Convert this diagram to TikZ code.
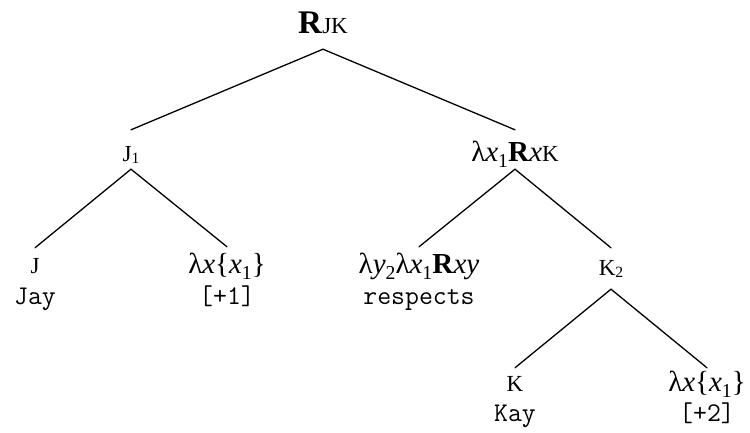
\documentclass[tikz,border=0pt]{standalone}
\usepackage{fontspec}
\usepackage{graphicx}
\setmainfont{Liberation Serif}
% helpers for the semantic labels
\newcommand\dn[1]{\raisebox{-0.22em}{\scalebox{0.68}{#1}}}
\newcommand\itv[1]{\textit{#1}}
\newcommand\smc[1]{{\fontsize{23}{23}\selectfont #1}}
\newcommand\lexp{\fontsize{29}{29}\selectfont}
\newcommand\word{\ttfamily\fontsize{27}{27}\selectfont}
\begin{document}
\begin{tikzpicture}[x=1pt,y=1pt,
  tn/.style 2 args={inner sep=0pt, anchor=base, text height=#1, text depth=#2},
  edge/.style={line width=1.3pt, line cap=round}]
\useasboundingbox (0,0) rectangle (750,432);

% root
\node[tn={22pt}{15pt}] (root) at (323,398) {{\fontsize{33}{33}\selectfont\textbf{R}}\smc{JK}};

% first level
\node[tn={31pt}{8pt}] (j1) at (131,271) {\smc{J}\dn{\smc{1}}};
\node[tn={31pt}{8pt}] (r1) at (515,271) {\lexp λ\itv{x}\dn{1}\textbf{R}\itv{x}\smc{K}};

% second level
\node[tn={25pt}{4pt}] (j) at (35,159) {\smc{J}};
\node[tn={20pt}{6pt}] (jay) at (35,128) {\word Jay};
\node[tn={26pt}{6pt}] (lx1) at (227,159) {\lexp λ\itv{x}\{\itv{x}\dn{1}\}};
\node[tn={20pt}{6pt}] (p1) at (227,128) {\word [+1]};
\node[tn={26pt}{6pt}] (lyx) at (419,159) {\lexp λ\itv{y}\dn{2}λ\itv{x}\dn{1}\textbf{R}\itv{x}\itv{y}};
\node[tn={20pt}{6pt}] (resp) at (419,128) {\word respects};
\node[tn={27pt}{14pt}] (k2) at (611,157) {\smc{K}\dn{\smc{2}}};

% third level
\node[tn={23pt}{4pt}] (k) at (515,41) {\smc{K}};
\node[tn={20pt}{6pt}] (kay) at (515,11) {\word Kay};
\node[tn={23pt}{6pt}] (lx2) at (707,41) {\lexp λ\itv{x}\{\itv{x}\dn{1}\}};
\node[tn={20pt}{6pt}] (p2) at (707,11) {\word [+2]};

% branches
\draw[edge] (root.south) -- (j1.north);
\draw[edge] (root.south) -- (r1.north);
\draw[edge] (j1.south) -- (j.north);
\draw[edge] (j1.south) -- (lx1.north);
\draw[edge] (r1.south) -- (lyx.north);
\draw[edge] (r1.south) -- (k2.north);
\draw[edge] (k2.south) -- (k.north);
\draw[edge] (k2.south) -- (lx2.north);
\end{tikzpicture}
\end{document}
